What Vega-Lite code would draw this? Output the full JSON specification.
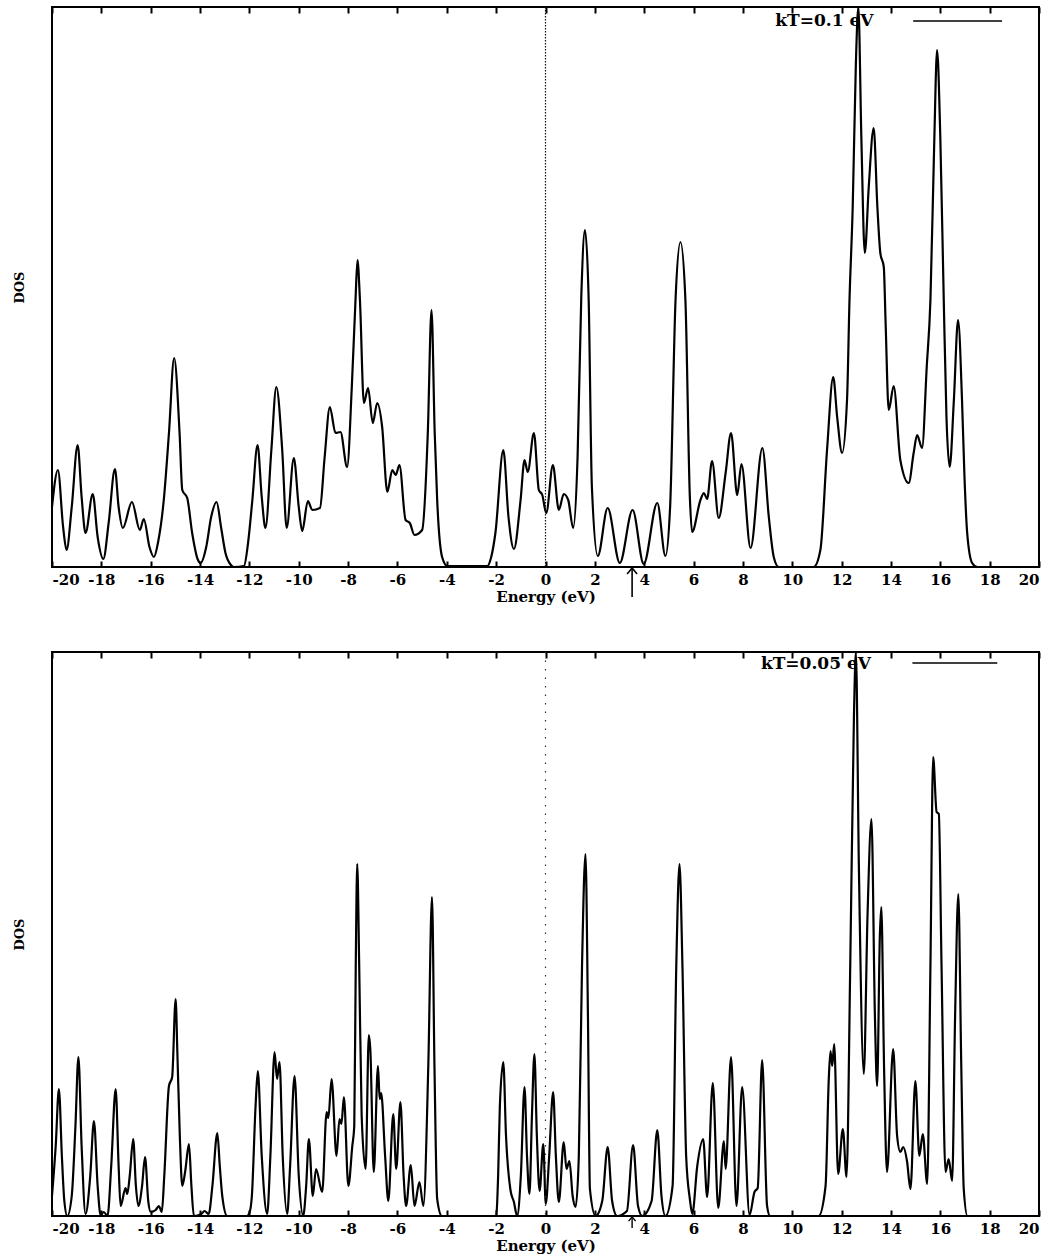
{
  "$schema": "https://vega.github.io/schema/vega-lite/v6.json",
  "background": "white",
  "padding": {"left": 12, "top": 1, "right": 5, "bottom": 5},
  "spacing": 41,
  "config": {
    "view": {"stroke": "black", "strokeWidth": 2},
    "font": "DejaVu Serif",
    "axis": {
      "grid": false,
      "domain": false,
      "labelFont": "DejaVu Serif",
      "labelFontWeight": "bold",
      "labelFontSize": 15,
      "labelColor": "black",
      "titleFont": "DejaVu Serif",
      "titleFontWeight": "bold",
      "titleColor": "black",
      "tickColor": "black",
      "tickWidth": 2
    }
  },
  "datasets": {
    "kt01": [
      {"E": -20.0, "dos": 60}, {"E": -19.76, "dos": 97}, {"E": -19.55, "dos": 40}, {"E": -19.41, "dos": 17},
      {"E": -19.2, "dos": 60}, {"E": -18.96, "dos": 122}, {"E": -18.8, "dos": 70}, {"E": -18.64, "dos": 34},
      {"E": -18.35, "dos": 73}, {"E": -18.15, "dos": 30}, {"E": -17.92, "dos": 8}, {"E": -17.7, "dos": 45},
      {"E": -17.45, "dos": 98}, {"E": -17.3, "dos": 60}, {"E": -17.13, "dos": 39}, {"E": -16.76, "dos": 65},
      {"E": -16.44, "dos": 37}, {"E": -16.28, "dos": 48}, {"E": -16.05, "dos": 20}, {"E": -15.87, "dos": 10},
      {"E": -15.7, "dos": 25}, {"E": -15.47, "dos": 67}, {"E": -15.26, "dos": 134}, {"E": -15.05, "dos": 209},
      {"E": -14.83, "dos": 134}, {"E": -14.72, "dos": 77}, {"E": -14.52, "dos": 69}, {"E": -14.32, "dos": 34},
      {"E": -14.1, "dos": 8}, {"E": -13.98, "dos": 4}, {"E": -13.75, "dos": 20}, {"E": -13.55, "dos": 50},
      {"E": -13.33, "dos": 65}, {"E": -13.15, "dos": 40}, {"E": -12.97, "dos": 14}, {"E": -12.75, "dos": 2},
      {"E": -12.63, "dos": 0}, {"E": -12.22, "dos": 1}, {"E": -12.05, "dos": 25}, {"E": -11.88, "dos": 67},
      {"E": -11.67, "dos": 122}, {"E": -11.5, "dos": 70}, {"E": -11.35, "dos": 39}, {"E": -11.11, "dos": 117},
      {"E": -10.91, "dos": 180}, {"E": -10.67, "dos": 117}, {"E": -10.49, "dos": 39}, {"E": -10.2, "dos": 109},
      {"E": -10.0, "dos": 60}, {"E": -9.86, "dos": 36}, {"E": -9.63, "dos": 66}, {"E": -9.45, "dos": 57},
      {"E": -9.14, "dos": 59}, {"E": -8.95, "dos": 110}, {"E": -8.74, "dos": 160}, {"E": -8.51, "dos": 134},
      {"E": -8.31, "dos": 135}, {"E": -8.04, "dos": 100}, {"E": -7.85, "dos": 180}, {"E": -7.7, "dos": 267},
      {"E": -7.62, "dos": 307}, {"E": -7.52, "dos": 267}, {"E": -7.36, "dos": 164}, {"E": -7.19, "dos": 179},
      {"E": -7.0, "dos": 144}, {"E": -6.82, "dos": 164}, {"E": -6.62, "dos": 140}, {"E": -6.41, "dos": 75},
      {"E": -6.21, "dos": 97}, {"E": -6.07, "dos": 92}, {"E": -5.92, "dos": 102}, {"E": -5.67, "dos": 47},
      {"E": -5.5, "dos": 44}, {"E": -5.31, "dos": 32}, {"E": -5.0, "dos": 37}, {"E": -4.77, "dos": 134},
      {"E": -4.62, "dos": 257}, {"E": -4.49, "dos": 134}, {"E": -4.39, "dos": 67}, {"E": -4.19, "dos": 10},
      {"E": -3.98, "dos": 1}, {"E": -2.36, "dos": 1}, {"E": -2.2, "dos": 10}, {"E": -2.03, "dos": 34},
      {"E": -1.71, "dos": 117}, {"E": -1.5, "dos": 50}, {"E": -1.28, "dos": 18}, {"E": -1.01, "dos": 67},
      {"E": -0.85, "dos": 107}, {"E": -0.72, "dos": 95}, {"E": -0.47, "dos": 134}, {"E": -0.27, "dos": 77},
      {"E": -0.13, "dos": 72}, {"E": 0.03, "dos": 54}, {"E": 0.3, "dos": 102}, {"E": 0.54, "dos": 57},
      {"E": 0.74, "dos": 73}, {"E": 0.92, "dos": 67}, {"E": 1.12, "dos": 39}, {"E": 1.3, "dos": 110},
      {"E": 1.45, "dos": 270}, {"E": 1.6, "dos": 337}, {"E": 1.75, "dos": 267}, {"E": 1.88, "dos": 80},
      {"E": 2.12, "dos": 11}, {"E": 2.52, "dos": 59}, {"E": 3.01, "dos": 4}, {"E": 3.53, "dos": 57},
      {"E": 3.98, "dos": 3}, {"E": 4.53, "dos": 64}, {"E": 4.86, "dos": 11}, {"E": 5.05, "dos": 60},
      {"E": 5.27, "dos": 267}, {"E": 5.47, "dos": 325}, {"E": 5.67, "dos": 267}, {"E": 5.85, "dos": 70},
      {"E": 5.94, "dos": 35}, {"E": 6.28, "dos": 67}, {"E": 6.42, "dos": 74}, {"E": 6.55, "dos": 68},
      {"E": 6.75, "dos": 106}, {"E": 7.02, "dos": 49}, {"E": 7.3, "dos": 94}, {"E": 7.52, "dos": 134},
      {"E": 7.77, "dos": 72}, {"E": 7.94, "dos": 103}, {"E": 8.31, "dos": 19}, {"E": 8.79, "dos": 119},
      {"E": 9.05, "dos": 50}, {"E": 9.25, "dos": 10}, {"E": 9.45, "dos": 0}, {"E": 10.87, "dos": 0},
      {"E": 11.14, "dos": 17}, {"E": 11.41, "dos": 117}, {"E": 11.66, "dos": 190}, {"E": 11.82, "dos": 150},
      {"E": 12.02, "dos": 114}, {"E": 12.22, "dos": 167}, {"E": 12.32, "dos": 267}, {"E": 12.45, "dos": 360},
      {"E": 12.58, "dos": 505}, {"E": 12.68, "dos": 560}, {"E": 12.8, "dos": 430}, {"E": 12.94, "dos": 314},
      {"E": 13.1, "dos": 380}, {"E": 13.3, "dos": 439}, {"E": 13.45, "dos": 360}, {"E": 13.57, "dos": 314},
      {"E": 13.71, "dos": 300}, {"E": 13.78, "dos": 247}, {"E": 13.91, "dos": 157}, {"E": 14.11, "dos": 181},
      {"E": 14.38, "dos": 107}, {"E": 14.72, "dos": 84}, {"E": 14.92, "dos": 114}, {"E": 15.06, "dos": 132},
      {"E": 15.26, "dos": 119}, {"E": 15.45, "dos": 200}, {"E": 15.6, "dos": 267}, {"E": 15.75, "dos": 420},
      {"E": 15.87, "dos": 517}, {"E": 16.0, "dos": 430}, {"E": 16.14, "dos": 267}, {"E": 16.25, "dos": 150},
      {"E": 16.38, "dos": 100}, {"E": 16.55, "dos": 167}, {"E": 16.72, "dos": 247}, {"E": 16.88, "dos": 167},
      {"E": 16.98, "dos": 90}, {"E": 17.09, "dos": 34}, {"E": 17.29, "dos": 4}, {"E": 17.5, "dos": 0},
      {"E": 20.0, "dos": 0}
    ],
    "kt005": [
      {"E": -20.0, "dos": 20}, {"E": -19.85, "dos": 70}, {"E": -19.72, "dos": 127}, {"E": -19.6, "dos": 60},
      {"E": -19.5, "dos": 15}, {"E": -19.38, "dos": 0}, {"E": -19.2, "dos": 20}, {"E": -19.05, "dos": 90},
      {"E": -18.93, "dos": 159}, {"E": -18.8, "dos": 70}, {"E": -18.64, "dos": 2}, {"E": -18.45, "dos": 40},
      {"E": -18.3, "dos": 95}, {"E": -18.15, "dos": 30}, {"E": -18.03, "dos": 1}, {"E": -17.9, "dos": 4},
      {"E": -17.75, "dos": 0}, {"E": -17.6, "dos": 50}, {"E": -17.42, "dos": 127}, {"E": -17.3, "dos": 50},
      {"E": -17.22, "dos": 10}, {"E": -17.02, "dos": 28}, {"E": -16.95, "dos": 22}, {"E": -16.85, "dos": 40},
      {"E": -16.71, "dos": 77}, {"E": -16.6, "dos": 30}, {"E": -16.5, "dos": 10}, {"E": -16.35, "dos": 30},
      {"E": -16.23, "dos": 59}, {"E": -16.1, "dos": 15}, {"E": -16.0, "dos": 4}, {"E": -15.8, "dos": 6},
      {"E": -15.67, "dos": 10}, {"E": -15.55, "dos": 4}, {"E": -15.45, "dos": 40}, {"E": -15.26, "dos": 130},
      {"E": -15.13, "dos": 139}, {"E": -14.99, "dos": 217}, {"E": -14.92, "dos": 164}, {"E": -14.82, "dos": 80},
      {"E": -14.72, "dos": 30}, {"E": -14.6, "dos": 45}, {"E": -14.45, "dos": 72}, {"E": -14.35, "dos": 30},
      {"E": -14.25, "dos": 0}, {"E": -13.95, "dos": 2}, {"E": -13.82, "dos": 5}, {"E": -13.65, "dos": 2},
      {"E": -13.5, "dos": 30}, {"E": -13.3, "dos": 83}, {"E": -13.2, "dos": 50}, {"E": -13.1, "dos": 20},
      {"E": -12.9, "dos": 0}, {"E": -12.1, "dos": 0}, {"E": -12.0, "dos": 3}, {"E": -11.9, "dos": 20},
      {"E": -11.75, "dos": 110}, {"E": -11.66, "dos": 145}, {"E": -11.5, "dos": 60}, {"E": -11.28, "dos": 2},
      {"E": -11.15, "dos": 60}, {"E": -10.98, "dos": 164}, {"E": -10.88, "dos": 137}, {"E": -10.78, "dos": 154},
      {"E": -10.65, "dos": 60}, {"E": -10.47, "dos": 2}, {"E": -10.35, "dos": 50}, {"E": -10.17, "dos": 140},
      {"E": -10.0, "dos": 40}, {"E": -9.82, "dos": 0}, {"E": -9.7, "dos": 30}, {"E": -9.59, "dos": 77},
      {"E": -9.43, "dos": 20}, {"E": -9.3, "dos": 47}, {"E": -9.05, "dos": 24}, {"E": -8.87, "dos": 104},
      {"E": -8.8, "dos": 98}, {"E": -8.67, "dos": 137}, {"E": -8.47, "dos": 60}, {"E": -8.35, "dos": 97},
      {"E": -8.27, "dos": 92}, {"E": -8.17, "dos": 119}, {"E": -7.99, "dos": 30}, {"E": -7.83, "dos": 70},
      {"E": -7.75, "dos": 90}, {"E": -7.69, "dos": 250}, {"E": -7.63, "dos": 352}, {"E": -7.55, "dos": 250},
      {"E": -7.45, "dos": 100}, {"E": -7.29, "dos": 47}, {"E": -7.16, "dos": 181}, {"E": -7.1, "dos": 167},
      {"E": -6.96, "dos": 44}, {"E": -6.79, "dos": 150}, {"E": -6.72, "dos": 117}, {"E": -6.66, "dos": 123},
      {"E": -6.5, "dos": 60}, {"E": -6.37, "dos": 15}, {"E": -6.17, "dos": 102}, {"E": -6.05, "dos": 47},
      {"E": -5.88, "dos": 114}, {"E": -5.75, "dos": 40}, {"E": -5.65, "dos": 10}, {"E": -5.46, "dos": 51},
      {"E": -5.31, "dos": 10}, {"E": -5.11, "dos": 34}, {"E": -4.95, "dos": 10}, {"E": -4.75, "dos": 150},
      {"E": -4.6, "dos": 319}, {"E": -4.5, "dos": 150}, {"E": -4.39, "dos": 17}, {"E": -4.2, "dos": 0},
      {"E": -2.0, "dos": 0}, {"E": -1.92, "dos": 40}, {"E": -1.85, "dos": 110}, {"E": -1.71, "dos": 154},
      {"E": -1.6, "dos": 80}, {"E": -1.42, "dos": 26}, {"E": -1.28, "dos": 14}, {"E": -1.15, "dos": 0},
      {"E": -1.0, "dos": 40}, {"E": -0.85, "dos": 129}, {"E": -0.75, "dos": 60}, {"E": -0.65, "dos": 22},
      {"E": -0.55, "dos": 100}, {"E": -0.45, "dos": 162}, {"E": -0.35, "dos": 80}, {"E": -0.24, "dos": 25},
      {"E": -0.09, "dos": 72}, {"E": 0.01, "dos": 12}, {"E": 0.15, "dos": 60}, {"E": 0.31, "dos": 124},
      {"E": 0.42, "dos": 60}, {"E": 0.54, "dos": 14}, {"E": 0.74, "dos": 74}, {"E": 0.85, "dos": 47},
      {"E": 0.97, "dos": 55}, {"E": 1.1, "dos": 20}, {"E": 1.22, "dos": 9}, {"E": 1.35, "dos": 60},
      {"E": 1.48, "dos": 250}, {"E": 1.62, "dos": 362}, {"E": 1.72, "dos": 200}, {"E": 1.8, "dos": 27},
      {"E": 2.03, "dos": 0}, {"E": 2.3, "dos": 15}, {"E": 2.52, "dos": 69}, {"E": 2.7, "dos": 15},
      {"E": 2.9, "dos": 0}, {"E": 3.3, "dos": 5}, {"E": 3.55, "dos": 71}, {"E": 3.75, "dos": 10},
      {"E": 3.92, "dos": 0}, {"E": 4.3, "dos": 15}, {"E": 4.53, "dos": 86}, {"E": 4.7, "dos": 20},
      {"E": 4.86, "dos": 0}, {"E": 5.15, "dos": 30}, {"E": 5.3, "dos": 250}, {"E": 5.43, "dos": 352},
      {"E": 5.55, "dos": 250}, {"E": 5.7, "dos": 60}, {"E": 5.85, "dos": 17}, {"E": 5.95, "dos": 2},
      {"E": 6.15, "dos": 50}, {"E": 6.39, "dos": 77}, {"E": 6.55, "dos": 19}, {"E": 6.78, "dos": 133},
      {"E": 7.0, "dos": 8}, {"E": 7.23, "dos": 75}, {"E": 7.3, "dos": 47}, {"E": 7.52, "dos": 159},
      {"E": 7.74, "dos": 10}, {"E": 7.97, "dos": 129}, {"E": 8.27, "dos": 1}, {"E": 8.47, "dos": 24},
      {"E": 8.6, "dos": 28}, {"E": 8.78, "dos": 156}, {"E": 8.98, "dos": 10}, {"E": 9.1, "dos": 0},
      {"E": 11.07, "dos": 0}, {"E": 11.35, "dos": 30}, {"E": 11.48, "dos": 137}, {"E": 11.55, "dos": 165},
      {"E": 11.62, "dos": 150}, {"E": 11.7, "dos": 172}, {"E": 11.86, "dos": 42}, {"E": 12.05, "dos": 87},
      {"E": 12.2, "dos": 39}, {"E": 12.35, "dos": 250}, {"E": 12.5, "dos": 500}, {"E": 12.58, "dos": 564},
      {"E": 12.7, "dos": 350}, {"E": 12.9, "dos": 142}, {"E": 13.05, "dos": 300}, {"E": 13.21, "dos": 397},
      {"E": 13.35, "dos": 200}, {"E": 13.44, "dos": 130}, {"E": 13.55, "dos": 280}, {"E": 13.61, "dos": 309},
      {"E": 13.72, "dos": 150}, {"E": 13.84, "dos": 44}, {"E": 14.09, "dos": 167}, {"E": 14.25, "dos": 80},
      {"E": 14.38, "dos": 64}, {"E": 14.5, "dos": 69}, {"E": 14.65, "dos": 55}, {"E": 14.79, "dos": 27},
      {"E": 14.99, "dos": 135}, {"E": 15.15, "dos": 60}, {"E": 15.29, "dos": 82}, {"E": 15.47, "dos": 32},
      {"E": 15.6, "dos": 250}, {"E": 15.71, "dos": 459}, {"E": 15.85, "dos": 404}, {"E": 15.94, "dos": 402},
      {"E": 16.05, "dos": 250}, {"E": 16.21, "dos": 44}, {"E": 16.34, "dos": 57}, {"E": 16.48, "dos": 35},
      {"E": 16.6, "dos": 200}, {"E": 16.73, "dos": 322}, {"E": 16.85, "dos": 150}, {"E": 16.95, "dos": 27},
      {"E": 17.1, "dos": 0}, {"E": 20.0, "dos": 0}
    ]
  },
  "vconcat": [
    {
      "width": 987,
      "height": 560,
      "layer": [
        {
          "data": {"name": "kt01"},
          "mark": {"type": "line", "color": "black", "strokeWidth": 2.2, "interpolate": "monotone"},
          "encoding": {
            "x": {
              "field": "E", "type": "quantitative",
              "scale": {"domain": [-20, 20], "nice": false},
              "axis": {
                "orient": "bottom",
                "values": [-20, -18, -16, -14, -12, -10, -8, -6, -4, -2, 0, 2, 4, 6, 8, 10, 12, 14, 16, 18, 20],
                "labelExpr": "'' + datum.value",
                "tickSize": -6, "labelPadding": 11,
                "title": "Energy (eV)", "titleFontSize": 15, "titlePadding": 2
              }
            },
            "y": {
              "field": "dos", "type": "quantitative",
              "scale": {"domain": [0, 560], "nice": false},
              "axis": {"title": "DOS", "labels": false, "ticks": false, "titleFontSize": 13, "titlePadding": 26}
            }
          }
        },
        {
          "data": {"values": [{}]},
          "mark": {"type": "rule", "strokeDash": [1.5, 1.5], "color": "#111111", "strokeWidth": 1.2},
          "encoding": {
            "x": {
              "datum": 0, "type": "quantitative",
              "axis": {
                "orient": "top",
                "values": [-20, -18, -16, -14, -12, -10, -8, -6, -4, -2, 0, 2, 4, 6, 8, 10, 12, 14, 16, 18, 20],
                "labels": false, "tickSize": -6, "title": null
              }
            }
          }
        },
        {
          "data": {"values": [{}]},
          "mark": {"type": "text", "align": "center", "baseline": "middle", "font": "DejaVu Serif", "fontWeight": "bold", "fontSize": 17, "color": "black"},
          "encoding": {
            "x": {"datum": 11.3, "type": "quantitative", "axis": null},
            "y": {"datum": 546, "type": "quantitative"},
            "text": {"value": "kT=0.1 eV"}
          }
        },
        {
          "data": {"values": [{}]},
          "mark": {"type": "rule", "color": "black", "strokeWidth": 1.5},
          "encoding": {
            "x": {"datum": 14.9, "type": "quantitative", "axis": null},
            "x2": {"datum": 18.5},
            "y": {"datum": 546, "type": "quantitative"}
          }
        },
        {
          "data": {"values": [{}]},
          "mark": {"type": "rule", "color": "black", "strokeWidth": 1.6},
          "encoding": {
            "x": {"datum": 3.51, "type": "quantitative", "axis": null},
            "y": {"datum": -1, "type": "quantitative"},
            "y2": {"datum": -30}
          }
        },
        {
          "data": {"values": [{}]},
          "mark": {"type": "point", "shape": "M -1 0.6 L 0 -0.6 L 1 0.6", "filled": false, "size": 100, "color": "black", "strokeWidth": 1.6, "opacity": 1},
          "encoding": {
            "x": {"datum": 3.51, "type": "quantitative", "axis": null},
            "y": {"datum": -4, "type": "quantitative"}
          }
        }
      ],
      "resolve": {"axis": {"x": "independent"}}
    },
    {
      "width": 987,
      "height": 564,
      "layer": [
        {
          "data": {"name": "kt005"},
          "mark": {"type": "line", "color": "black", "strokeWidth": 2.2, "interpolate": "monotone"},
          "encoding": {
            "x": {
              "field": "E", "type": "quantitative",
              "scale": {"domain": [-20, 20], "nice": false},
              "axis": {
                "orient": "bottom",
                "values": [-20, -18, -16, -14, -12, -10, -8, -6, -4, -2, 0, 2, 4, 6, 8, 10, 12, 14, 16, 18, 20],
                "labelExpr": "'' + datum.value",
                "tickSize": -6, "labelPadding": 11,
                "title": "Energy (eV)", "titleFontSize": 15, "titlePadding": 2
              }
            },
            "y": {
              "field": "dos", "type": "quantitative",
              "scale": {"domain": [0, 564], "nice": false},
              "axis": {"title": "DOS", "labels": false, "ticks": false, "titleFontSize": 13, "titlePadding": 26}
            }
          }
        },
        {
          "data": {"values": [{}]},
          "mark": {"type": "rule", "strokeDash": [1.5, 7], "color": "#333333", "strokeWidth": 1.2},
          "encoding": {
            "x": {
              "datum": 0, "type": "quantitative",
              "axis": {
                "orient": "top",
                "values": [-20, -18, -16, -14, -12, -10, -8, -6, -4, -2, 0, 2, 4, 6, 8, 10, 12, 14, 16, 18, 20],
                "labels": false, "tickSize": -6, "title": null
              }
            }
          }
        },
        {
          "data": {"values": [{}]},
          "mark": {"type": "text", "align": "center", "baseline": "middle", "font": "DejaVu Serif", "fontWeight": "bold", "fontSize": 17, "color": "black"},
          "encoding": {
            "x": {"datum": 10.96, "type": "quantitative", "axis": null},
            "y": {"datum": 552, "type": "quantitative"},
            "text": {"value": "kT=0.05 eV"}
          }
        },
        {
          "data": {"values": [{}]},
          "mark": {"type": "rule", "color": "black", "strokeWidth": 1.5},
          "encoding": {
            "x": {"datum": 14.87, "type": "quantitative", "axis": null},
            "x2": {"datum": 18.31},
            "y": {"datum": 553, "type": "quantitative"}
          }
        },
        {
          "data": {"values": [{}]},
          "mark": {"type": "rule", "color": "black", "strokeWidth": 1.4},
          "encoding": {
            "x": {"datum": 3.51, "type": "quantitative", "axis": null},
            "y": {"datum": -1, "type": "quantitative"},
            "y2": {"datum": -12}
          }
        },
        {
          "data": {"values": [{}]},
          "mark": {"type": "point", "shape": "M -1 0.6 L 0 -0.6 L 1 0.6", "filled": false, "size": 49, "color": "black", "strokeWidth": 1.4, "opacity": 1},
          "encoding": {
            "x": {"datum": 3.51, "type": "quantitative", "axis": null},
            "y": {"datum": -3, "type": "quantitative"}
          }
        }
      ],
      "resolve": {"axis": {"x": "independent"}}
    }
  ]
}
